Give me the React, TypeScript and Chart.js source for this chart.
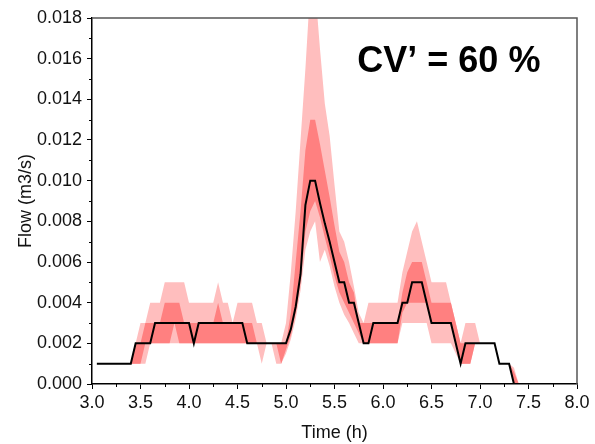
import React, { useEffect, useRef } from 'react';
import { Chart, registerables } from 'chart.js';

Chart.register(...registerables);

// Time (h)
const times = [
  3.05, 3.1, 3.15, 3.2, 3.25, 3.3, 3.35, 3.4, 3.45, 3.5,
  3.55, 3.6, 3.65, 3.7, 3.75, 3.8, 3.85, 3.9, 3.95, 4.0,
  4.05, 4.1, 4.15, 4.2, 4.25, 4.3, 4.35, 4.4, 4.45, 4.5,
  4.55, 4.6, 4.65, 4.7, 4.75, 4.8, 4.85, 4.9, 4.95, 5.0,
  5.05, 5.1, 5.15, 5.2, 5.25, 5.3, 5.35, 5.4, 5.45, 5.5,
  5.55, 5.6, 5.65, 5.7, 5.75, 5.8, 5.85, 5.9, 5.95, 6.0,
  6.05, 6.1, 6.15, 6.2, 6.25, 6.3, 6.35, 6.4, 6.45, 6.5,
  6.55, 6.6, 6.65, 6.7, 6.75, 6.8, 6.85, 6.9, 6.95, 7.0,
  7.05, 7.1, 7.15, 7.2, 7.25, 7.3, 7.35, 7.4, 7.45, 8.0,
];

// Median flow (m3/s)
const median = [
  0.001, 0.001, 0.001, 0.001, 0.001, 0.001, 0.001, 0.001, 0.002, 0.002,
  0.002, 0.002, 0.003, 0.003, 0.003, 0.003, 0.003, 0.003, 0.003, 0.003,
  0.002, 0.003, 0.003, 0.003, 0.003, 0.003, 0.003, 0.003, 0.003, 0.003,
  0.003, 0.002, 0.002, 0.002, 0.002, 0.002, 0.002, 0.002, 0.002, 0.002,
  0.0027, 0.0038, 0.0054, 0.0088, 0.010, 0.010, 0.0089, 0.0079, 0.007, 0.006,
  0.005, 0.005, 0.004, 0.004, 0.003, 0.002, 0.002, 0.003, 0.003, 0.003,
  0.003, 0.003, 0.003, 0.004, 0.004, 0.005, 0.005, 0.005, 0.004, 0.003,
  0.003, 0.003, 0.003, 0.003, 0.002, 0.001, 0.002, 0.002, 0.002, 0.002,
  0.002, 0.002, 0.002, 0.001, 0.001, 0.001, 0, 0, 0, 0,
];

// 5th percentile (outer band, lower)
const p5 = [
  0.001, 0.001, 0.001, 0.001, 0.001, 0.001, 0.001, 0.001, 0.001, 0.001,
  0.001, 0.002, 0.002, 0.002, 0.002, 0.002, 0.002, 0.002, 0.002, 0.002,
  0.002, 0.002, 0.002, 0.002, 0.002, 0.002, 0.002, 0.002, 0.002, 0.002,
  0.002, 0.002, 0.002, 0.002, 0.001, 0.002, 0.002, 0.001, 0.001, 0.0015,
  0.0022, 0.0032, 0.0046, 0.0066, 0.0075, 0.008, 0.006, 0.0066, 0.0058, 0.0048,
  0.004, 0.0034, 0.003, 0.0025, 0.002, 0.002, 0.002, 0.002, 0.002, 0.002,
  0.002, 0.002, 0.002, 0.003, 0.003, 0.003, 0.003, 0.003, 0.003, 0.002,
  0.002, 0.002, 0.002, 0.002, 0.0015, 0.001, 0.001, 0.001, 0.002, 0.002,
  0.002, 0.002, 0.002, 0.001, 0.001, 0.001, 0, 0, 0, 0,
];

// 25th percentile (inner band, lower)
const p25 = [
  0.001, 0.001, 0.001, 0.001, 0.001, 0.001, 0.001, 0.001, 0.001, 0.001,
  0.002, 0.002, 0.002, 0.002, 0.002, 0.002, 0.003, 0.002, 0.002, 0.002,
  0.002, 0.002, 0.002, 0.002, 0.002, 0.002, 0.002, 0.002, 0.002, 0.002,
  0.002, 0.002, 0.002, 0.002, 0.002, 0.002, 0.002, 0.002, 0.001, 0.0017,
  0.0024, 0.0035, 0.005, 0.0075, 0.0085, 0.009, 0.0082, 0.0072, 0.0063, 0.0053,
  0.0045, 0.004, 0.0035, 0.003, 0.0025, 0.002, 0.002, 0.002, 0.002, 0.002,
  0.002, 0.002, 0.002, 0.0035, 0.004, 0.004, 0.004, 0.004, 0.004, 0.003,
  0.003, 0.003, 0.003, 0.003, 0.002, 0.001, 0.001, 0.001, 0.002, 0.002,
  0.002, 0.002, 0.002, 0.001, 0.001, 0.001, 0, 0, 0, 0,
];

// 75th percentile (inner band, upper)
const p75 = [
  0.001, 0.001, 0.001, 0.001, 0.001, 0.001, 0.001, 0.001, 0.002, 0.002,
  0.003, 0.003, 0.003, 0.003, 0.004, 0.004, 0.004, 0.004, 0.003, 0.003,
  0.003, 0.003, 0.003, 0.003, 0.003, 0.004, 0.003, 0.003, 0.003, 0.003,
  0.003, 0.003, 0.003, 0.002, 0.002, 0.002, 0.002, 0.002, 0.002, 0.002,
  0.0035, 0.006, 0.0085, 0.0115, 0.013, 0.013, 0.0118, 0.0105, 0.0092, 0.0078,
  0.0065, 0.006, 0.005, 0.0045, 0.003, 0.003, 0.003, 0.003, 0.003, 0.003,
  0.003, 0.003, 0.003, 0.0045, 0.0055, 0.006, 0.006, 0.006, 0.005, 0.004,
  0.004, 0.004, 0.004, 0.004, 0.003, 0.002, 0.002, 0.002, 0.002, 0.002,
  0.002, 0.002, 0.002, 0.001, 0.001, 0.001, 0.0006, 0, 0, 0,
];

// 95th percentile (outer band, upper)
const p95 = [
  0.001, 0.001, 0.001, 0.001, 0.001, 0.001, 0.001, 0.001, 0.002, 0.003,
  0.003, 0.004, 0.004, 0.004, 0.005, 0.005, 0.005, 0.005, 0.005, 0.004,
  0.004, 0.004, 0.004, 0.004, 0.004, 0.005, 0.004, 0.004, 0.003, 0.004,
  0.004, 0.004, 0.004, 0.003, 0.003, 0.002, 0.002, 0.002, 0.002, 0.003,
  0.0055, 0.0085, 0.012, 0.0155, 0.0195, 0.0195, 0.0165, 0.0138, 0.0122, 0.0098,
  0.0075, 0.007, 0.006, 0.0048, 0.0035, 0.003, 0.004, 0.004, 0.004, 0.004,
  0.004, 0.004, 0.004, 0.0055, 0.0065, 0.0075, 0.008, 0.007, 0.006, 0.005,
  0.005, 0.005, 0.005, 0.004, 0.003, 0.002, 0.003, 0.003, 0.003, 0.002,
  0.002, 0.002, 0.002, 0.001, 0.001, 0.001, 0.0008, 0, 0, 0,
];

const xTickValues = [3.0, 3.5, 4.0, 4.5, 5.0, 5.5, 6.0, 6.5, 7.0, 7.5, 8.0];
const yTickValues = [0, 0.002, 0.004, 0.006, 0.008, 0.01, 0.012, 0.014, 0.016, 0.018];

const xTitle = 'Time (h)';
const yTitle = 'Flow (m3/s)';
const annotationText = 'CV\u2019 = 60 %';

const FONT = '"Liberation Sans", Arial, Helvetica, sans-serif';
const LIGHT = 'rgb(255, 190, 190)';
const DARK = 'rgb(255, 128, 128)';

const pts = (vals: number[]) => times.map((t, i) => ({ x: t, y: vals[i] }));

const frameAndMinorTicks = {
  id: 'frameAndMinorTicks',
  afterDraw(chart: any) {
    const { ctx, chartArea, scales } = chart;
    const xs = scales.x;
    const ys = scales.y;
    ctx.save();
    ctx.strokeStyle = '#555';
    ctx.lineWidth = 1.5;
    ctx.beginPath();
    ctx.moveTo(chartArea.left, chartArea.top);
    ctx.lineTo(chartArea.right, chartArea.top);
    ctx.lineTo(chartArea.right, chartArea.bottom);
    ctx.stroke();
    ctx.strokeStyle = '#000';
    ctx.lineWidth = 1;
    ctx.beginPath();
    for (let i = 0; i < xTickValues.length - 1; i++) {
      const v = (xTickValues[i] + xTickValues[i + 1]) / 2;
      const px = Math.round(xs.getPixelForValue(v)) + 0.5;
      ctx.moveTo(px, chartArea.bottom);
      ctx.lineTo(px, chartArea.bottom + 3);
    }
    for (let i = 0; i < yTickValues.length - 1; i++) {
      const v = (yTickValues[i] + yTickValues[i + 1]) / 2;
      const py = Math.round(ys.getPixelForValue(v)) + 0.5;
      ctx.moveTo(chartArea.left - 3, py);
      ctx.lineTo(chartArea.left, py);
    }
    ctx.stroke();
    ctx.fillStyle = '#000';
    ctx.font = `bold 36px ${FONT}`;
    ctx.textBaseline = 'alphabetic';
    ctx.textAlign = 'left';
    ctx.fillText(annotationText, chartArea.left + (chartArea.right - chartArea.left) * 0.547, chartArea.top + 54);
    ctx.restore();
  },
};

export default function App() {
  const canvasRef = useRef<HTMLCanvasElement | null>(null);

  useEffect(() => {
    if (!canvasRef.current) return;
    const chart = new Chart(canvasRef.current, {
      type: 'line',
      data: {
        datasets: [
          { label: 'median', data: pts(median), borderColor: '#000', borderWidth: 2, pointRadius: 0, fill: false, tension: 0, order: 0 },
          { label: 'p75', data: pts(p75), borderWidth: 0, borderColor: 'rgba(0,0,0,0)', backgroundColor: DARK, pointRadius: 0, fill: '+1', tension: 0, order: 1 },
          { label: 'p25', data: pts(p25), borderWidth: 0, borderColor: 'rgba(0,0,0,0)', pointRadius: 0, fill: false, tension: 0, order: 1 },
          { label: 'p95', data: pts(p95), borderWidth: 0, borderColor: 'rgba(0,0,0,0)', backgroundColor: LIGHT, pointRadius: 0, fill: '+1', tension: 0, order: 2 },
          { label: 'p5', data: pts(p5), borderWidth: 0, borderColor: 'rgba(0,0,0,0)', pointRadius: 0, fill: false, tension: 0, order: 2 },
        ],
      },
      options: {
        animation: false,
        responsive: false,
        devicePixelRatio: 1,
        layout: { padding: { top: 18, right: 18, left: 0, bottom: 0 } },
        plugins: {
          legend: { display: false },
          tooltip: { enabled: false },
          filler: { propagate: false },
        },
        scales: {
          x: {
            type: 'linear',
            min: 3,
            max: 8,
            afterBuildTicks: (scale: any) => {
              scale.ticks = xTickValues.map((v) => ({ value: v }));
            },
            afterFit: (scale: any) => {
              scale.height = 60;
            },
            ticks: {
              callback: (v: any) => Number(v).toFixed(1),
              color: '#111',
              font: { family: FONT, size: 18 },
              padding: 3,
              maxRotation: 0,
              autoSkip: false,
            },
            grid: { drawOnChartArea: false, drawTicks: true, tickLength: 5, tickColor: '#000', tickWidth: 1 },
            border: { display: true, color: '#000', width: 1.5 },
            title: {
              display: true,
              text: xTitle,
              color: '#111',
              font: { family: FONT, size: 18 },
              padding: { top: 0, bottom: 0 },
            },
          },
          y: {
            type: 'linear',
            min: 0,
            max: 0.018,
            afterBuildTicks: (scale: any) => {
              scale.ticks = yTickValues.map((v) => ({ value: v }));
            },
            afterFit: (scale: any) => {
              scale.width = 92;
            },
            ticks: {
              callback: (v: any) => Number(v).toFixed(3),
              color: '#111',
              font: { family: FONT, size: 18 },
              padding: 5,
              autoSkip: false,
            },
            grid: { drawOnChartArea: false, drawTicks: true, tickLength: 5, tickColor: '#000', tickWidth: 1 },
            border: { display: true, color: '#000', width: 1.5 },
            title: {
              display: true,
              text: yTitle,
              color: '#111',
              font: { family: FONT, size: 18 },
              padding: { top: 15, bottom: 0 },
            },
          },
        },
      },
      plugins: [frameAndMinorTicks],
    } as any);
    return () => chart.destroy();
  }, []);

  return (
    <div style={{ position: 'absolute', left: 0, top: 0, width: 595, height: 444, background: '#fff' }}>
      <canvas ref={canvasRef} width={595} height={444} style={{ width: 595, height: 444 }} />
    </div>
  );
}
